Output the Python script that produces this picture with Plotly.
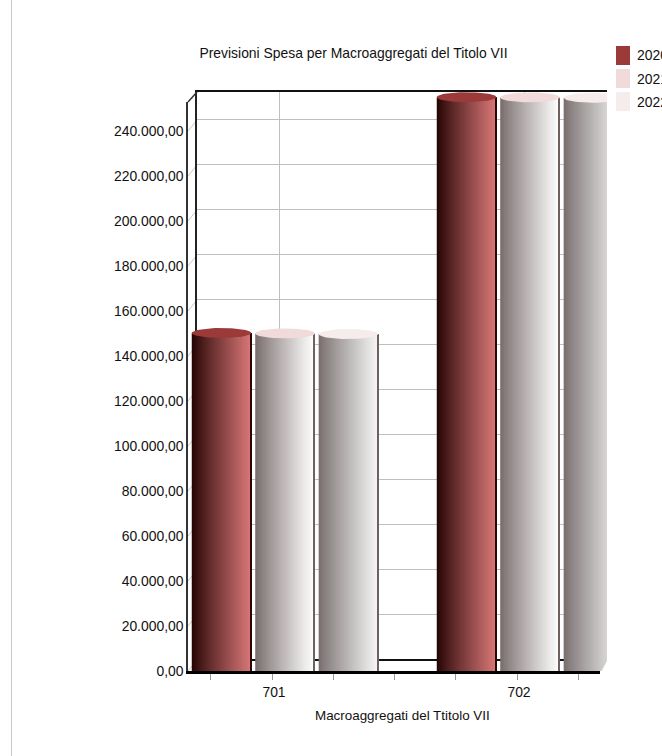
import math
import plotly.graph_objects as go

categories = ["701", "702"]
series_names = ["2020", "2021", "2022"]
values_2020 = [147800, 252600]
values_2021 = [147600, 252500]
values_2022 = [147300, 252300]
y_ticks = list(range(0, 240001, 20000))
title_text = "Previsioni Spesa per Macroaggregati del Titolo VII"
x_title_text = "Macroaggregati del Ttitolo VII"

W, H = 662, 756
FONT = "Liberation Sans"
TEXT = "#111111"
FS = 13.9
def px(v): return v / W
def py(v): return 1 - v / H
PER_20K = 45.0
def yrange(bottom_px, top_px, zero_px):
    return [(zero_px - bottom_px) / PER_20K * 20000, (zero_px - top_px) / PER_20K * 20000]
def xrange_(left, right):
    return [(left - 272) / 245, (right - 272) / 245]

def lerp(a, b, t):
    return "rgb(%d,%d,%d)" % tuple(round(a[i] + (b[i] - a[i]) * t) for i in range(3))

series = [
    (values_2020, -0.206, (40, 6, 6), (212, 116, 116), "#9c3a3a", "#2a0505"),
    (values_2021, 0.053, (122, 110, 110), (252, 252, 252), "#f0dada", "#6f6060"),
    (values_2022, 0.312, (122, 112, 112), (242, 242, 242), "#f6ecec", "#6f6060"),
]
BW = 0.243
N = 30

fig = go.Figure()

# back plane subplot
fig.add_trace(go.Scatter(x=[0], y=[0], xaxis="x", yaxis="y", mode="markers", opacity=0,
                         showlegend=False, hoverinfo="skip"))
# front axes subplot
fig.add_trace(go.Scatter(x=[0], y=[0], xaxis="x2", yaxis="y2", mode="markers", opacity=0,
                         showlegend=False, hoverinfo="skip"))

for (vals, off, c0, c1, top, edge), name in zip(series, series_names):
    xs, ys, offs, widths, cols = [], [], [], [], []
    w = (BW - 1 / 245) / N
    for ci, v in enumerate(vals):
        for i in range(N + 1):
            xs.append(ci)
            ys.append(v + 2444)
            offs.append(off - BW / 2 + i * w)
            widths.append(BW - i * w)
            cols.append(lerp(c0, c1, (i / (N - 1)) ** 0.9) if i < N else edge)
    fig.add_trace(go.Bar(x=xs, y=ys, base=-2444, offset=offs, width=widths, name=name,
                         marker=dict(color=cols, line=dict(width=0)),
                         xaxis="x3", yaxis="y3", showlegend=False))
    ex, ey = [], []
    for ci, v in enumerate(vals):
        for k in range(61):
            t = 2 * math.pi * k / 60
            ex.append(ci + off + BW / 2 * math.cos(t))
            ey.append(v + 2200 * math.sin(t))
        ex.append(None)
        ey.append(None)
    fig.add_trace(go.Scatter(x=ex, y=ey, mode="lines", fill="toself", fillcolor=top,
                             line=dict(width=0, color=top), xaxis="x3", yaxis="y3",
                             showlegend=False, hoverinfo="skip"))

shapes = [
    # page border
    dict(type="line", xref="paper", yref="paper", x0=px(11.5), x1=px(11.5), y0=py(0), y1=py(756),
         line=dict(color="#c8c8c8", width=1)),
    # depth edges
    dict(type="line", xref="paper", yref="paper", x0=px(188), x1=px(197), y0=py(102), y1=py(92),
         line=dict(color="#333333", width=1.5)),
    # cut-off corner at the lower right of the floor
    dict(type="path", xref="paper", yref="paper", layer="above",
         path=f"M {px(607.5)} {py(660)} L {px(600.5)} {py(673)} L {px(612)} {py(673)} L {px(612)} {py(660)} Z",
         fillcolor="white", line=dict(width=0)),
]
for t in y_ticks:
    yf = 671 - t / 20000 * PER_20K
    shapes.append(dict(type="line", xref="paper", yref="paper", layer="below",
                       x0=px(188), x1=px(197), y0=py(yf), y1=py(yf - 11),
                       line=dict(color="#c8c8c8", width=1)))

annotations = [dict(text=x_title_text, xref="paper", yref="paper", x=px(402), y=py(715),
                    xanchor="center", yanchor="middle", showarrow=False,
                    font=dict(family=FONT, size=13.4, color=TEXT))]
for i, (s, name) in enumerate(zip(series, series_names)):
    top_px = 46 + i * 23
    shapes.append(dict(type="rect", xref="paper", yref="paper", x0=px(616), x1=px(630),
                       y0=py(top_px), y1=py(top_px + 19), fillcolor=s[4], line=dict(width=0)))
    annotations.append(dict(text=name, xref="paper", yref="paper", x=px(634.5), y=py(top_px + 9.5),
                            xanchor="left", yanchor="middle", showarrow=False,
                            font=dict(family=FONT, size=FS, color=TEXT)))

fig.update_layout(
    width=W, height=H, margin=dict(l=0, r=0, t=0, b=0, autoexpand=False),
    paper_bgcolor="white", plot_bgcolor="rgba(0,0,0,0)", barmode="overlay",
    separators=",.", showlegend=False, shapes=shapes, annotations=annotations,
    font=dict(family=FONT, size=FS, color=TEXT),
    title=dict(text=title_text, x=px(353.5), xanchor="center", y=py(53), yanchor="middle",
               font=dict(family=FONT, size=FS, color=TEXT)),
    xaxis=dict(domain=[px(197), px(607)], range=xrange_(197, 607), anchor="y",
               tickvals=[(279 - 272) / 245, (524 - 272) / 245], showticklabels=False,
               showgrid=True, gridcolor="#bfbfbf", gridwidth=1, zeroline=False,
               showline=True, linecolor="#111111", linewidth=2, mirror=True, ticks=""),
    yaxis=dict(domain=[py(659), py(92)], range=[0, (659 - 92) / PER_20K * 20000], anchor="x",
               tickvals=y_ticks, showticklabels=False, showgrid=True, gridcolor="#bfbfbf",
               gridwidth=1, zeroline=False, showline=True, linecolor="#222222", linewidth=2,
               ticks=""),
    xaxis2=dict(domain=[px(188), px(600)], range=xrange_(188, 600), anchor="y2",
                tickvals=[-0.25, 0, 0.25, 0.5, 0.75, 1, 1.25],
                ticktext=["", categories[0], "", "", "", categories[1], ""],
                ticks="outside", ticklen=6, tickcolor="#999999", tickwidth=1,
                ticklabelshift=2,
                showgrid=False, zeroline=False, showline=True, linecolor="#000000", linewidth=3,
                tickfont=dict(family=FONT, size=FS, color=TEXT)),
    yaxis2=dict(domain=[py(671), py(102)], range=[0, (671 - 102) / PER_20K * 20000], anchor="x2",
                tickvals=y_ticks, tickformat=",.2f", ticks="", showgrid=False, zeroline=False,
                showline=True, linecolor="#333333", linewidth=1.5,
                tickfont=dict(family=FONT, size=FS, color=TEXT)),
    xaxis3=dict(domain=[px(188), px(607)], range=xrange_(188, 607), anchor="y3", visible=False),
    yaxis3=dict(domain=[py(672), py(88)], range=yrange(672, 88, 665.5), anchor="x3", visible=False),
)

fig.write_html("out.html", post_script="document.body.style.margin='0';",
               config={"displayModeBar": False})
